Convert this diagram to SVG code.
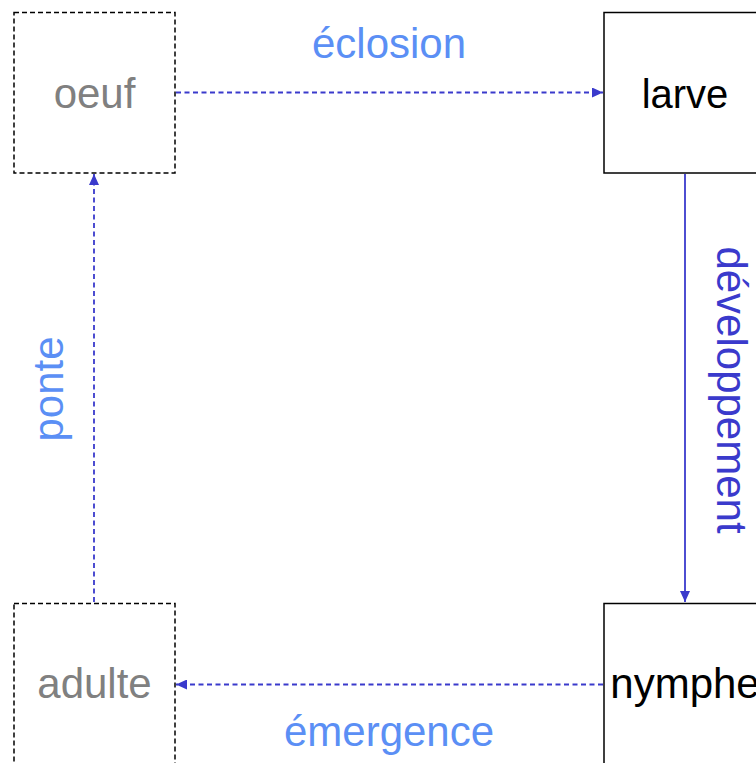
<svg xmlns="http://www.w3.org/2000/svg" width="756" height="763" viewBox="0 0 756 763">
<style>
.box{fill:#ffffff;stroke:#000000;stroke-width:1.5}
.dbox{stroke-dasharray:5 3}
.t{font-family:"Liberation Sans",Arial,sans-serif;font-size:42px;text-anchor:middle}
.gray{fill:#808080}
.black{fill:#000000}
.lbl{fill:#5b8ff5}
.lbl2{fill:#3a3acc}
.c{fill:none;stroke:#3a3acc;stroke-width:1.8}
.dash{stroke-dasharray:5 3.5}
</style>
<defs>
<marker id="ah" viewBox="0 0 11 10" refX="11" refY="5" markerWidth="11" markerHeight="10" markerUnits="userSpaceOnUse" orient="auto">
<path d="M0,0 L11,5 L0,10 z" fill="#3a3acc"/>
</marker>
</defs>
<rect width="756" height="763" fill="#ffffff"/>
<g id="connectors">
<g id="eclosion">
<line class="c dash" x1="176" y1="92.5" x2="603" y2="92.5" marker-end="url(#ah)"/>
<text class="t lbl" x="389" y="58">éclosion</text>
</g>
<g id="developpement">
<line class="c" x1="685" y1="174" x2="685" y2="602" marker-end="url(#ah)"/>
<text class="t lbl2" transform="translate(717,390) rotate(90)" x="0" y="0">développement</text>
</g>
<g id="emergence">
<line class="c dash" x1="603" y1="684.5" x2="176" y2="684.5" marker-end="url(#ah)"/>
<text class="t lbl" x="389" y="746">émergence</text>
</g>
<g id="ponte">
<line class="c dash" x1="94" y1="602" x2="94" y2="174" marker-end="url(#ah)"/>
<text class="t lbl" transform="translate(63,389) rotate(-90)" x="0" y="0">ponte</text>
</g>
</g>
<g id="oeuf">
<rect class="box dbox" x="14" y="12.5" width="161" height="160.5"/>
<text class="t gray" x="94.5" y="108">oeuf</text>
</g>
<g id="larve">
<rect class="box" x="604" y="12.5" width="161" height="160.5"/>
<text class="t black" x="685" y="108" style="font-size:40px">larve</text>
</g>
<g id="nymphe">
<rect class="box" x="604" y="603.5" width="161" height="170"/>
<text class="t black" x="685" y="698">nymphe</text>
</g>
<g id="adulte">
<rect class="box dbox" x="14" y="603.5" width="161" height="170"/>
<text class="t gray" x="94.5" y="698">adulte</text>
</g>
</svg>
